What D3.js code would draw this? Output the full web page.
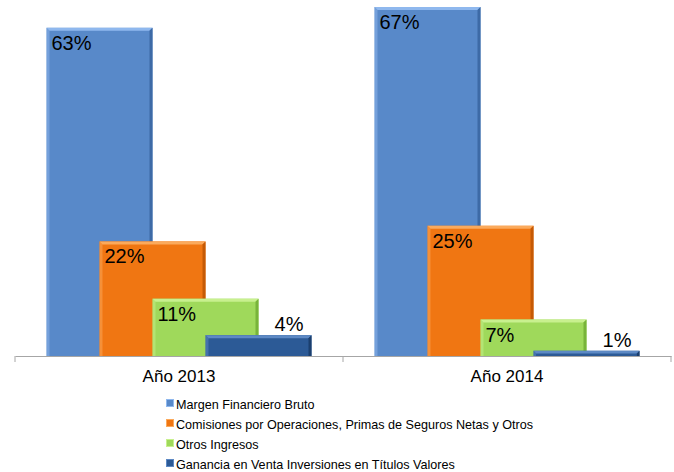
<!DOCTYPE html>
<html><head><meta charset="utf-8">
<script src="https://cdn.jsdelivr.net/npm/d3@7"></script>
<style>body{margin:0;background:#fff}svg{display:block;font-family:Arial,"Liberation Sans",sans-serif}</style>
</head><body><svg id="c" width="674" height="472"></svg>
<script>
const categories = ["Año 2013", "Año 2014"];
const seriesNames = ["Margen Financiero Bruto", "Comisiones por Operaciones, Primas de Seguros Netas y Otros", "Otros Ingresos", "Ganancia en Venta Inversiones en Títulos Valores"];
const margen = [63, 67];
const comisiones = [22, 25];
const otros = [11, 7];
const ganancia = [4, 1];
const labels2013 = ["63%", "22%", "11%", "4%"];
const labels2014 = ["67%", "25%", "7%", "1%"];
const colors = ["#5889c9", "#f07612", "#9fd95b", "#2c5a96"];
const lights = ["#8fb8ee", "#fbaa5c", "#c8f08e", "#5d89c4"];
const darks = ["#3d6aa6", "#c55a06", "#78b43a", "#1b3f6e"];

const series = [margen, comisiones, otros, ganancia];
const labelSets = [labels2013, labels2014];
const svg = d3.select("#c");
const x = d3.scaleBand().domain(categories).range([15, 671]).padding(0);
const y = d3.scaleLinear().domain([0, 67]).range([356, 7]);
const barW = 106, step = 53;

categories.forEach((cat, ci) => {
  const gx = x(cat) + x.bandwidth() / 2 - (step * 3 + barW) / 2;
  series.forEach((s, si) => {
    const v = s[ci];
    const x0 = gx + si * step, y0 = y(v), h = y(0) - y(v);
    const g = svg.append("g");
    g.append("rect").attr("x", x0).attr("y", y0).attr("width", barW).attr("height", h).attr("fill", colors[si]);
    const b = Math.min(3, h / 2);
    g.append("path").attr("d", `M${x0},${y0}L${x0 + barW},${y0}L${x0 + barW - b},${y0 + b}L${x0 + b},${y0 + b}Z`).attr("fill", lights[si]);
    g.append("path").attr("d", `M${x0 + barW},${y0}L${x0 + barW},${y0 + h}L${x0 + barW - b},${y0 + h}L${x0 + barW - b},${y0 + b}Z`).attr("fill", darks[si]);
    g.append("path").attr("d", `M${x0},${y0}L${x0 + b},${y0 + b}L${x0 + b},${y0 + h}L${x0},${y0 + h}Z`).attr("fill", lights[si]).attr("opacity", 0.5);
    const lab = labelSets[ci][si];
    if (v >= 5) {
      svg.append("text").attr("x", x0 + 5).attr("y", y0 + 22).attr("font-size", 20).attr("fill", "#000").text(lab);
    } else {
      svg.append("text").attr("x", x0 + barW - 8).attr("y", y0 - 4).attr("text-anchor", "end").attr("font-size", 20).attr("fill", "#000").text(lab);
    }
  });
});

const axis = d3.axisBottom(x).tickSize(0).tickPadding(14);
const ax = svg.append("g").attr("transform", "translate(0,356)").call(axis);
ax.select(".domain").attr("stroke", "#a6a6a6");
ax.selectAll("text").attr("font-size", 17).attr("fill", "#000").attr("font-family", "Arial, 'Liberation Sans', sans-serif");
[15, 343, 671].forEach(t => ax.append("line").attr("x1", t).attr("x2", t).attr("y1", 0).attr("y2", 6).attr("stroke", "#a6a6a6"));

const leg = svg.append("g");
seriesNames.forEach((n, i) => {
  const yy = 404 + i * 20;
  leg.append("rect").attr("x", 166.5).attr("y", yy - 4.5).attr("width", 7).attr("height", 7).attr("fill", colors[i]).attr("stroke", lights[i]).attr("stroke-width", 1);
  leg.append("text").attr("x", 176).attr("y", yy + 4.5).attr("font-size", 12.6).attr("fill", "#000").text(n);
});
</script></body></html>
